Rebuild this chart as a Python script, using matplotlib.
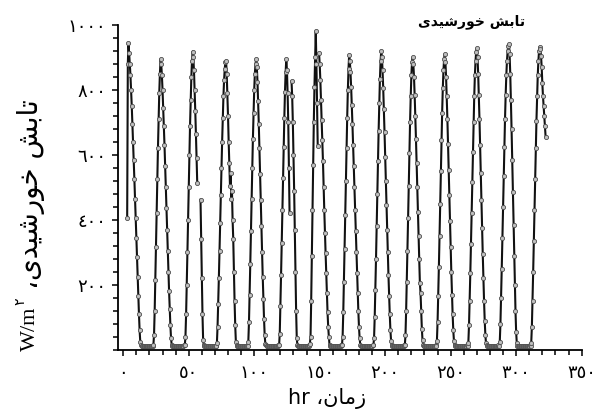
import numpy as np
import matplotlib.pyplot as plt
from matplotlib.ticker import MultipleLocator

nan = np.nan

# start hour of each half-hourly daily record (W/m2 values)
day_start = [3.0, 23.0, 47.0, 71.0, 95.0, 119.0, 143.0,
             167.0, 191.0, 215.0, 239.0, 263.0, 287.0, 311.0]

d01 = [406, 880, 945, 915, 880, 845, 800, 750, 695, 640, 585, 525, 465, 405,
       345, 285, 225, 165, 110, 60, 25,
       14, 12, 12, 11, 12, 12, 12, 11, 12, 12, 12, 11, 12, 12, 12, 11, 12, 12, 13]
d02 = [14, 45, 120, 215, 315, 420, 525, 620, 710, 790, 850, 895, 880, 845,
       800, 745, 690, 630, 565, 500, 435, 370, 305, 240, 180, 125, 75, 35, 16,
       13, 12, 11, 12, 12, 12, 11, 12, 12, 12, 11, 12, 12, 12, 11, 12, 12, 13, 14]
d03 = [14, 40, 110, 200, 300, 400, 500, 600, 690, 770, 840, 890, 918, 900,
       860, 800, 735, 665, 590, 513, nan, nan, nan, nan, 462, 340, 220, 110, 30,
       14, 12, 12, 11, 12, 12, 12, 11, 12, 12, 12, 11, 12, 12, 12, 11, 12, 12, 13]
d04 = [13, 20, 70, 140, 220, 305, 390, 475, 560, 640, 715, 780, 830, 865,
       885, 890, 850, 790, 720, 640, 575, 505, 545, 465, 490, 400, 340, 240,
       150, 75, 25,
       14, 12, 11, 12, 12, 12, 11, 12, 12, 12, 11, 12, 12, 12, 11, 12, 13]
d05 = [13, 25, 85, 170, 265, 365, 465, 560, 650, 730, 800, 850, 880, 895,
       870, 825, 765, 695, 620, 540, 460, 380, 300, 225, 155, 95, 45, 18,
       14, 12, 12, 11, 12, 12, 12, 11, 12, 12, 12, 11, 12, 12, 12, 11, 12, 12, 13, 14]
d06 = [14, 50, 135, 230, 330, 430, 530, 625, 715, 795, 855, 895, 860, 790,
       700, 560, 420, nan, nan, 826, 780, 700, 600, 490, 370, 240, 120, 35,
       15, 12, 12, 11, 12, 12, 12, 11, 12, 12, 12, 11, 12, 12, 12, 11, 12, 13, 14, 18]
d07 = [40, 150, 290, 430, 570, 700, 810, 900, 980, 880, 760, 626, nan, 913,
       880, 830, 770, 708, 645, 580, 502, 430, 360, 298, 235, 175, 115, 70, 40, 16,
       13, 12, 11, 12, 12, 12, 11, 12, 12, 12, 11, 12, 12, 12, 11, 12, 13, 14]
d08 = [14, 40, 115, 210, 310, 415, 520, 620, 715, 800, 865, 908, 890, 855,
       810, 755, 695, 630, 565, 500, 430, 365, 300, 235, 175, 120, 70, 35, 16,
       13, 12, 11, 12, 12, 12, 11, 12, 12, 12, 11, 12, 12, 12, 11, 12, 12, 13, 14]
d09 = [14, 35, 100, 185, 280, 380, 480, 580, 675, 760, 835, 890, 920, 900,
       860, 805, 740, 670, 595, 520, 445, 370, 300, 230, 165, 110, 60, 28, 15,
       13, 12, 11, 12, 12, 12, 11, 12, 12, 12, 11, 12, 12, 12, 11, 12, 12, 13, 14]
d10 = [14, 45, 120, 210, 305, 405, 505, 605, 700, 780, 845, 885, 900, 880,
       840, 785, 720, 650, 575, 500, 425, 350, 280, 205, 175, 120, 65, 30, 15,
       13, 12, 11, 12, 12, 12, 11, 12, 12, 12, 11, 12, 12, 12, 11, 12, 12, 13, 14]
d11 = [13, 28, 85, 165, 255, 350, 450, 550, 645, 730, 805, 860, 895, 910,
       885, 840, 780, 710, 635, 555, 475, 395, 315, 240, 170, 110, 60, 28, 15,
       13, 12, 11, 12, 12, 12, 11, 12, 12, 12, 11, 12, 12, 12, 11, 12, 12, 13, 14]
d12 = [13, 22, 75, 150, 235, 325, 420, 515, 610, 700, 780, 845, 890, 918,
       928, 900, 850, 785, 710, 630, 545, 460, 375, 295, 220, 150, 90, 45, 20, 14,
       12, 11, 12, 12, 12, 11, 12, 12, 12, 11, 12, 12, 12, 11, 12, 12, 13, 14]
d13 = [13, 25, 80, 160, 250, 345, 440, 535, 625, 710, 785, 845, 890, 920,
       935, 941, 910, 850, 770, 680, 585, 485, 385, 290, 200, 120, 55, 20,
       13, 12, 11, 12, 12, 12, 11, 12, 12, 12, 11, 12, 12, 12, 11, 12, 12, 12, 13, 14]
d14 = [13, 20, 70, 150, 240, 335, 430, 525, 620, 705, 780, 845, 890, 920,
       933, 925, 905, 870, 820, 780, 750, 720, 690, 656]

days = [d01, d02, d03, d04, d05, d06, d07, d08, d09, d10, d11, d12, d13, d14]

xticks = [0, 50, 100, 150, 200, 250, 300, 350]
xtick_labels = ['٠', '٥٠', '١٠٠', '١٥٠', '٢٠٠', '٢٥٠', '٣٠٠', '٣٥٠']
yticks = [200, 400, 600, 800, 1000]
ytick_labels = ['٢٠٠', '٤٠٠', '٦٠٠', '٨٠٠', '١٠٠٠']

# Persian strings in visual (shaped, left-to-right) order
title_txt = '\uFEEF\uFEAA\uFEF4\uFEB7\uFEAD\uFEEE\uFEA7 \uFEB6\uFE91\uFE8E\uFE97'
xlabel_txt = 'hr \u060C\uFEE5\uFE8E\uFEE3\uFEAF'
ylabel_unit = 'W/m'
ylabel_sup = '٢'
ylabel_txt = '\u060C' + title_txt

t = np.concatenate([s + 0.5 * np.arange(len(d)) for s, d in zip(day_start, days)])
v = np.concatenate([np.array(d, dtype=float) for d in days])

fig = plt.figure(figsize=(5.99, 4.15), dpi=100)
ax = fig.add_axes([0.197, 0.157, 0.774, 0.783])

ax.plot(t, v, color='#111111', lw=1.5, marker='o', ms=3.0,
        mfc='0.75', mec='0.3', mew=0.6)

ax.set_xlim(-4, 350)
ax.set_ylim(0, 1000)
ax.spines['top'].set_visible(False)
ax.spines['right'].set_visible(False)
for s in ['left', 'bottom']:
    ax.spines[s].set_linewidth(1.3)

ax.set_xticks(xticks)
ax.set_xticklabels(xtick_labels, fontsize=13)
ax.set_yticks(yticks)
ax.set_yticklabels(ytick_labels, fontsize=13)
ax.xaxis.set_minor_locator(MultipleLocator(10))
ax.yaxis.set_minor_locator(MultipleLocator(40))
ax.tick_params(which='both', direction='out', width=1.1)
ax.tick_params(which='major', length=4.5)
ax.tick_params(which='minor', length=3.5)
ax.tick_params(axis='x', pad=6)
ax.tick_params(axis='y', pad=4)

fig.text(472 / 599, 1 - 22 / 415, title_txt, ha='center', va='center',
         fontsize=10, fontweight='bold')
fig.text(327 / 599, 1 - 398 / 415, xlabel_txt, ha='center', va='center',
         fontsize=15)

# y label built from pieces, reading bottom to top
fig.text(30 / 599, 1 - 351 / 415, ylabel_unit, ha='center', va='bottom',
         rotation=90, fontsize=16, family='Liberation Serif')
fig.text(20 / 599, 1 - 301 / 415, ylabel_sup, ha='center', va='center',
         rotation=90, fontsize=10)
fig.text(31 / 599, 1 - 289 / 415, ylabel_txt, ha='center', va='bottom',
         rotation=90, fontsize=20)

fig.savefig('out.png', dpi=100)
